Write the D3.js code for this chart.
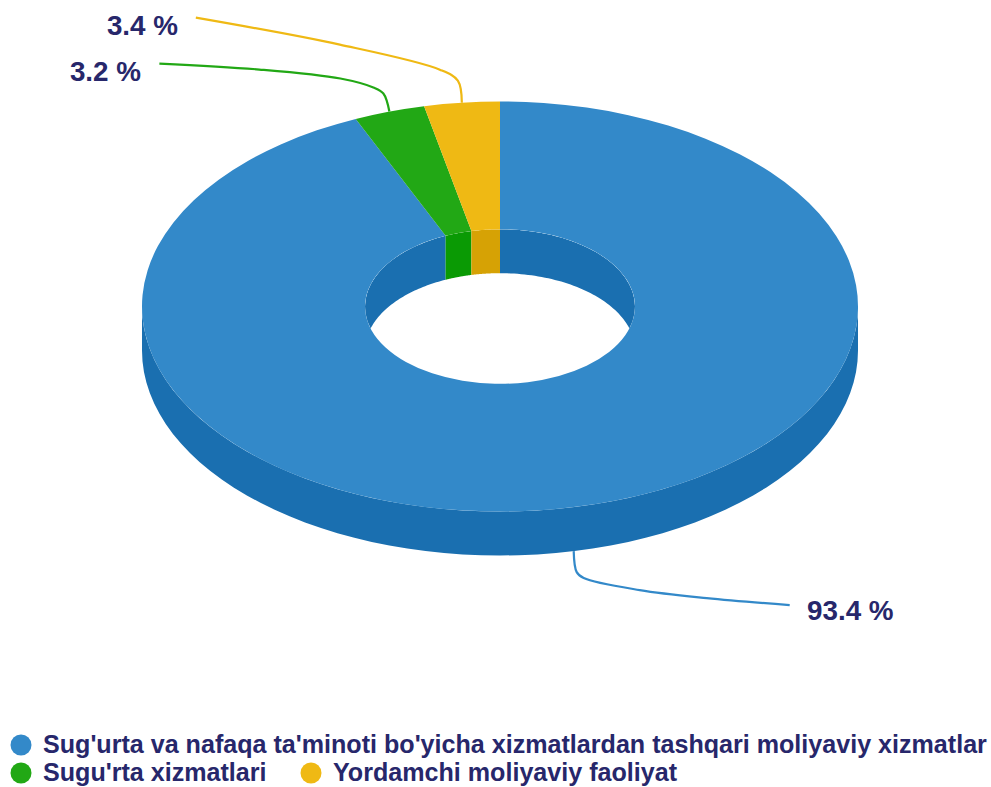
<!DOCTYPE html>
<html><head><meta charset="utf-8">
<script src="https://cdn.jsdelivr.net/npm/d3@7/dist/d3.min.js"></script>
<style>html,body{margin:0;padding:0;background:#fff}svg{display:block}text{font-family:"Liberation Sans",Arial,sans-serif}</style>
</head><body><svg id="c" width="991" height="787"></svg>
<script>
const categories = ["Sug'urta va nafaqa ta'minoti bo'yicha xizmatlardan tashqari moliyaviy xizmatlar","Sugu'rta xizmatlari","Yordamchi moliyaviy faoliyat"];
const shares = [93.4,3.2,3.4];
const labels = ["93.4 %","3.2 %","3.4 %"];
const topColors = ["#3389c9","#22a815","#efb914"];
const wallColors = ["#1a6fb0","#0a9a04","#d6a205"];

const cx=500, cy=306.5, R=358, r=135, tilt=205/358, depth=44;
const svg=d3.select("#c");
const pie=d3.pie().sort(null).value(d=>d)(shares);
const px=(rad,a)=>cx+rad*Math.sin(a), py=(rad,a)=>cy-rad*tilt*Math.cos(a);
function wall(rad,a0,a1){
  const t=d3.range(0,61).map(i=>a0+(a1-a0)*i/60);
  const p=d3.path();
  t.forEach((a,i)=>i?p.lineTo(px(rad,a),py(rad,a)):p.moveTo(px(rad,a),py(rad,a)));
  t.slice().reverse().forEach(a=>p.lineTo(px(rad,a),py(rad,a)+depth));
  p.closePath(); return p.toString();
}
const TAU=2*Math.PI;
svg.append("clipPath").attr("id","hole").append("ellipse").attr("cx",cx).attr("cy",cy).attr("rx",r).attr("ry",r*tilt);
// inner wall, visible on the far side of the hole
const innerG=svg.append("g").attr("clip-path","url(#hole)");
pie.forEach((d,i)=>{
  [[d.startAngle,Math.min(d.endAngle,TAU/4)],[Math.max(d.startAngle,3*TAU/4),d.endAngle]].forEach(([a,b])=>{
    if(b>a) innerG.append("path").attr("d",wall(r,a,b)).attr("fill",wallColors[i]);
  });
});
// outer wall, near side
pie.forEach((d,i)=>{
  const a=Math.max(d.startAngle,TAU/4), b=Math.min(d.endAngle,3*TAU/4);
  if(b>a) svg.append("path").attr("d",wall(R,a,b)).attr("fill",wallColors[i]);
});
// top faces
const arc=d3.arc().innerRadius(r).outerRadius(R);
svg.append("g").attr("transform",`translate(${cx},${cy}) scale(1,${tilt})`)
  .selectAll("path").data(pie).join("path").attr("d",arc).attr("fill",(d,i)=>topColors[i]);

// leader lines: offsets from each slice's anchor on the rim
const leaderOffsets=[
  [[0,0],[3,21],[10,27],[66,39],[133,47],[216,54]],
  [[0,0],[-6,-18],[-16,-24],[-49,-33],[-130,-42],[-230,-48]],
  [[0,0],[-4,-22],[-22,-33],[-122,-58],[-266,-85]]
];
const labelPos=[{x:807,y:620,a:"start"},{x:141,y:81,a:"end"},{x:178,y:35,a:"end"}];
const line=d3.line().curve(d3.curveCatmullRom.alpha(0.5));
pie.forEach((d,i)=>{
  const m=(d.startAngle+d.endAngle)/2;
  const near=m>TAU/4&&m<3*TAU/4;
  const ax=px(R,m), ay=py(R,m)+(near?depth:0);
  svg.append("path").attr("fill","none").attr("stroke",topColors[i]).attr("stroke-width",2.2)
    .attr("d",line(leaderOffsets[i].map(o=>[ax+o[0],ay+o[1]])));
  svg.append("text").attr("x",labelPos[i].x).attr("y",labelPos[i].y).attr("text-anchor",labelPos[i].a)
    .attr("font-size",27.8).attr("font-weight",700).attr("fill","#27276b").text(labels[i]);
});
// legend
const legendPos=[{x:21,y:745},{x:21,y:773},{x:311,y:773}];
categories.forEach((c,i)=>{
  const g=svg.append("g");
  g.append("circle").attr("cx",legendPos[i].x).attr("cy",legendPos[i].y).attr("r",10.5).attr("fill",topColors[i]);
  g.append("text").attr("x",legendPos[i].x+22).attr("y",legendPos[i].y+8).attr("font-size",25.1).attr("font-weight",700).attr("fill","#27276b").text(c);
});
</script></body></html>
